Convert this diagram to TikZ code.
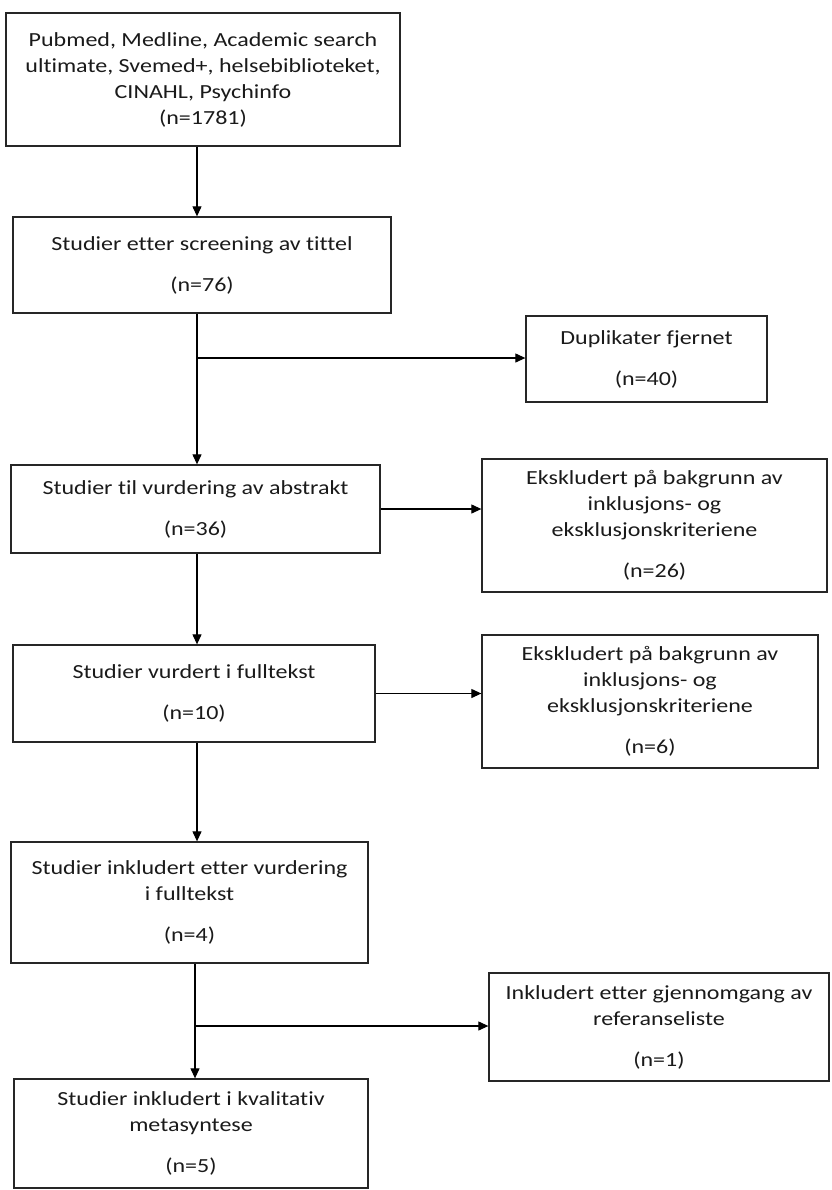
\documentclass[tikz,border=0pt]{standalone}
\usepackage{fontspec}
\setmainfont{Carlito}[FakeStretch=1.2, Ligatures=NoCommon]
\usetikzlibrary{arrows.meta}
\definecolor{boxline}{HTML}{262626}
\definecolor{inktext}{HTML}{1A1A1A}
\begin{document}
\begin{tikzpicture}[x=1pt, y=-1pt,
  every node/.style={font=\fontsize{20}{26}\selectfont, text=inktext},
  stage/.style={draw=boxline, line width=1.3pt, align=center, inner sep=0pt},
  flow/.style={draw=black, line width=1.1pt, -{Triangle[length=10pt, width=9pt]}},
  link/.style={draw=black, line width=1.1pt}]
  \useasboundingbox (0,0) rectangle (831,1190);
  % Main column of stages
  \node[stage, minimum width=394pt, minimum height=133pt] (src) at (203,79.5)
    {Pubmed, Medline, Academic search\\ultimate, Svemed+, helsebiblioteket,\\CINAHL, Psychinfo\\(n=1781)};
  \node[stage, minimum width=378pt, minimum height=96pt] (title) at (202,265)
    {Studier etter screening av tittel\\[15pt](n=76)};
  \node[stage, minimum width=369pt, minimum height=88pt] (abstr) at (195.5,509)
    {Studier til vurdering av abstrakt\\[15pt](n=36)};
  \node[stage, minimum width=362pt, minimum height=97pt] (full) at (194,693.5)
    {Studier vurdert i fulltekst\\[15pt](n=10)};
  \node[stage, minimum width=357pt, minimum height=121pt] (incl) at (189.5,902.5)
    {Studier inkludert etter vurdering\\i fulltekst\\[15pt](n=4)};
  \node[stage, minimum width=354pt, minimum height=109pt] (meta) at (191,1133.5)
    {Studier inkludert i kvalitativ\\metasyntese\\[15pt](n=5)};
  % Side boxes
  \node[stage, minimum width=241pt, minimum height=86pt] (dup) at (646.5,359)
    {Duplikater fjernet\\[15pt](n=40)};
  \node[stage, minimum width=345pt, minimum height=133pt] (exA) at (654.5,525.5)
    {Ekskludert på bakgrunn av\\inklusjons- og\\eksklusjonskriteriene\\[15pt](n=26)};
  \node[stage, minimum width=336pt, minimum height=133pt] (exB) at (650,701.5)
    {Ekskludert på bakgrunn av\\inklusjons- og\\eksklusjonskriteriene\\[15pt](n=6)};
  \node[stage, minimum width=340pt, minimum height=108pt] (ref) at (659,1027)
    {Inkludert etter gjennomgang av\\referanseliste\\[15pt](n=1)};
  % Branch points
  \coordinate (splitA) at (197,358);
  \coordinate (splitB) at (195,1026);
  % Connectors
  \draw[flow] (src.south -| splitA) -- (title.north -| splitA);
  \draw[link] (title.south -| splitA) -- (splitA);
  \draw[flow] (splitA) -- (abstr.north -| splitA);
  \draw[flow] (splitA) -- (splitA -| dup.west);
  \draw[flow] (abstr.east) -- (abstr.east -| exA.west);
  \draw[flow] (abstr.south -| splitA) -- (full.north -| splitA);
  \draw[flow] (full.east) -- (full.east -| exB.west);
  \draw[flow] (full.south -| splitA) -- (incl.north -| splitA);
  \draw[link] (incl.south -| splitB) -- (splitB);
  \draw[flow] (splitB) -- (meta.north -| splitB);
  \draw[flow] (splitB) -- (splitB -| ref.west);
\end{tikzpicture}
\end{document}
